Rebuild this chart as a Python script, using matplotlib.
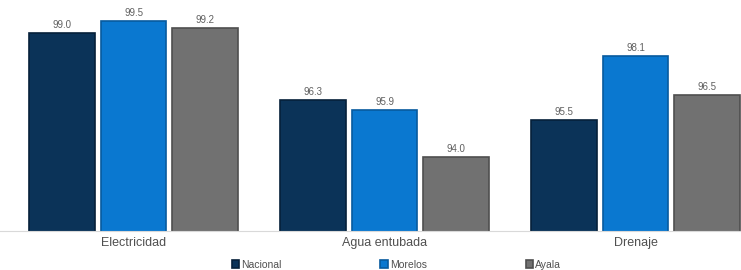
import numpy as np
import matplotlib
matplotlib.use("Agg")
import matplotlib.pyplot as plt

# datos
categorias = ["Electricidad", "Agua entubada", "Drenaje"]
series = ["Nacional", "Morelos", "Ayala"]
nacional = [99.0, 96.3, 95.5]
morelos = [99.5, 95.9, 98.1]
ayala = [99.2, 94.0, 96.5]

colores = ["#0b3358", "#0a78d0", "#717171"]
bordes = ["#06203a", "#075a9e", "#4f4f4f"]

plt.rcParams["font.family"] = ["Liberation Sans", "DejaVu Sans"]

fig = plt.figure(figsize=(7.41, 2.70), dpi=100)
ax = fig.add_axes([0, 0.144, 1, 0.856])

x = np.arange(len(categorias))
ancho = 0.262
paso = 0.285

for i, (nombre, vals) in enumerate(zip(series, [nacional, morelos, ayala])):
    pos = x + (i - 1) * paso
    barras = ax.bar(pos, vals, ancho, bottom=0, color=colores[i],
                    edgecolor=bordes[i], linewidth=1.2, label=nombre)
    for xb, v in zip(pos, vals):
        ax.text(xb, v + 0.12, f"{v:.1f}", ha="center", va="bottom",
                fontsize=7, color="#606060")

ax.set_ylim(91, 100.35)
ax.set_xlim(-0.532, 2.42)
ax.set_yticks([])
ax.set_xticks(x)
ax.set_xticklabels(categorias, fontsize=9, color="#505050")
ax.tick_params(axis="x", length=0, pad=4)
for s in ["top", "right", "left"]:
    ax.spines[s].set_visible(False)
ax.spines["bottom"].set_color("#d9d9d9")
ax.spines["bottom"].set_linewidth(0.8)

fig.legend(loc="center", bbox_to_anchor=(0.535, 0.02), ncol=3, frameon=False,
           fontsize=7.5, labelcolor="#505050", handlelength=0.7,
           handleheight=0.7, handletextpad=0.2, columnspacing=9.5)

plt.savefig("out.png", dpi=100)
